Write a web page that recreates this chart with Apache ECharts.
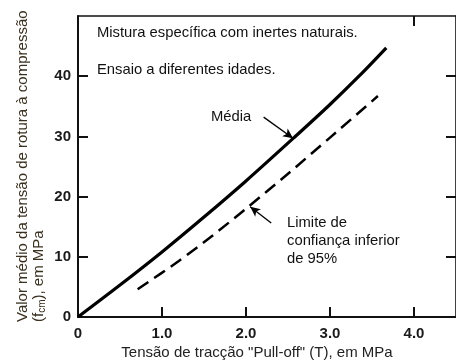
<!DOCTYPE html>
<html>
<head>
<meta charset="utf-8">
<script src="https://cdn.jsdelivr.net/npm/echarts@6/dist/echarts.min.js"></script>
<style>
html,body{margin:0;padding:0;background:#fff;}
#chart{width:456px;height:362px;}
</style>
</head>
<body>
<div id="chart"></div>
<script>
// Data
const mediaX = [0, 0.5, 1.0, 1.5, 2.0, 2.58, 3.0, 3.36, 3.67];
const mediaY = [0, 5.3, 10.8, 16.6, 22.6, 29.9, 35.3, 40.2, 44.7];
const limiteX = [0.71, 1.2, 1.6, 2.0, 2.5, 3.0, 3.57];
const limiteY = [4.6, 9.3, 13.5, 18.0, 23.8, 29.8, 36.7];
const xTicks = [0, 1, 2, 3, 4];
const xTickLabels = ['0', '1.0', '2.0', '3.0', '4.0'];
const yTicks = [0, 10, 20, 30, 40];
const yTickLabels = ['0', '10', '20', '30', '40'];

const FONT = '"Liberation Sans", Arial, sans-serif';
const chart = echarts.init(document.getElementById('chart'));

function pairs(xs, ys) { return xs.map((x, i) => [x, ys[i]]); }

const axisCommon = {
  type: 'value',
  splitLine: { show: false },
  axisLine: { show: true, onZero: false, lineStyle: { color: '#111', width: 2 } },
};

chart.setOption({
  animation: false,
  backgroundColor: '#fff',
  grid: { left: 78, top: 16, width: 381, height: 301, containLabel: false },
  xAxis: [
    Object.assign({}, axisCommon, {
      min: 0, max: 4.5, interval: 1, position: 'bottom',
      axisTick: { show: true, inside: true, length: 10, lineStyle: { color: '#111', width: 2 }, customValues: xTicks.slice(1) },
      axisLabel: {
        show: true, margin: 9, color: '#1a1a1a', fontFamily: FONT, fontSize: 15, fontWeight: 'bold',
        customValues: xTicks,
        formatter: v => xTickLabels[xTicks.indexOf(Math.round(v))] || ''
      }
    }),
    Object.assign({}, axisCommon, {
      min: 0, max: 4.5, interval: 1, position: 'top',
      axisLine: { show: true, onZero: false, lineStyle: { color: '#111', width: 1.6 } },
      axisTick: { show: true, inside: true, length: 10, lineStyle: { color: '#111', width: 2 }, customValues: [4] },
      axisLabel: { show: false }
    })
  ],
  yAxis: [
    Object.assign({}, axisCommon, {
      min: 0, max: 50, interval: 10, position: 'left',
      axisTick: { show: true, inside: true, length: 10, lineStyle: { color: '#111', width: 2 }, customValues: yTicks.slice(1) },
      axisLabel: {
        show: true, margin: 7, color: '#1a1a1a', fontFamily: FONT, fontSize: 15, fontWeight: 'bold',
        customValues: yTicks,
        formatter: v => yTickLabels[yTicks.indexOf(Math.round(v))] || ''
      }
    }),
    Object.assign({}, axisCommon, {
      min: 0, max: 50, interval: 10, position: 'right',
      axisLine: { show: true, onZero: false, lineStyle: { color: '#111', width: 1.6 } },
      axisTick: { show: true, inside: true, length: 10, lineStyle: { color: '#111', width: 2 }, customValues: yTicks.slice(1) },
      axisLabel: { show: false }
    })
  ],
  series: [
    {
      name: 'Média', type: 'line', smooth: 0.3, symbol: 'none',
      data: pairs(mediaX, mediaY),
      lineStyle: { color: '#000', width: 3.2, cap: 'butt' },
      markLine: {
        silent: true, symbol: ['none', 'arrow'], symbolSize: [7, 10],
        label: { show: false },
        lineStyle: { color: '#000', width: 1.3, type: 'solid' },
        data: [
          [{ coord: [2.21, 33.2] }, { coord: [2.56, 29.7] }]
        ]
      }
    },
    {
      name: 'Limite de confiança inferior de 95%', type: 'line', smooth: 0.3, symbol: 'none',
      data: pairs(limiteX, limiteY),
      lineStyle: { color: '#000', width: 2.5, type: [13, 7], cap: 'butt' },
      markLine: {
        silent: true, symbol: ['none', 'arrow'], symbolSize: [7, 10],
        label: { show: false },
        lineStyle: { color: '#000', width: 1.3, type: 'solid' },
        data: [
          [{ coord: [2.30, 15.6] }, { coord: [2.05, 18.3] }]
        ]
      }
    }
  ],
  graphic: [
    { type: 'text', x: 97, y: 33, style: { text: 'Mistura específica com inertes naturais.', fill: '#111', font: '14.8px ' + FONT, textVerticalAlign: 'middle' } },
    { type: 'text', x: 97, y: 70, style: { text: 'Ensaio a diferentes idades.', fill: '#111', font: '14.8px ' + FONT, textVerticalAlign: 'middle' } },
    { type: 'text', x: 211, y: 117, style: { text: 'Média', fill: '#111', font: '14.8px ' + FONT, textVerticalAlign: 'middle' } },
    { type: 'text', x: 287, y: 214, style: { text: 'Limite de\nconfiança inferior\nde 95%', fill: '#111', font: '14.8px ' + FONT, lineHeight: 18, textVerticalAlign: 'top' } },
    { type: 'text', x: 257, y: 353, style: { text: 'Tensão de tracção "Pull-off" (T), em MPa', fill: '#222', font: '15px ' + FONT, textAlign: 'center', textVerticalAlign: 'middle' } },
    {
      type: 'text', x: 15, y: 322, rotation: Math.PI / 2,
      style: {
        text: '{a|Valor médio da tensão de rotura à compressão}\n{a|(f}{s|cm}{a|), em MPa}',
        textAlign: 'left', textVerticalAlign: 'top', fill: '#3a3020',
        rich: {
          a: { fontFamily: FONT, fontSize: 15, lineHeight: 16, fill: '#3a3020', color: '#3a3020' },
          s: { fontFamily: FONT, fontSize: 10, lineHeight: 16, verticalAlign: 'bottom', fill: '#3a3020', color: '#3a3020', padding: [5, 0, 0, 0] }
        }
      }
    }
  ]
});
</script>
</body>
</html>
